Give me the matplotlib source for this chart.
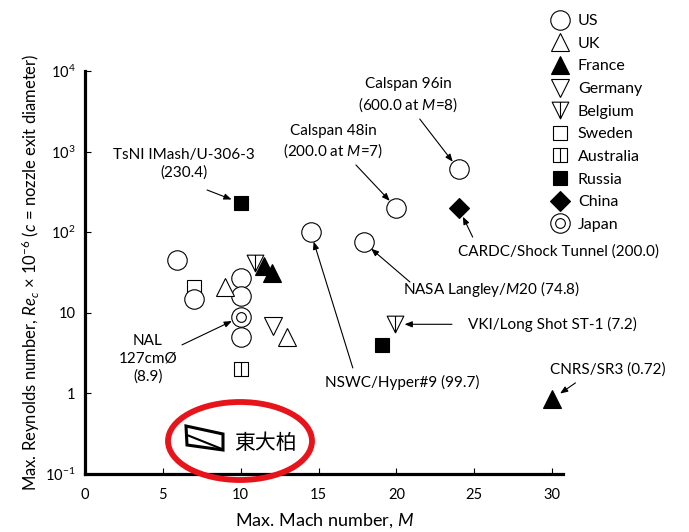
import matplotlib.pyplot as plt
from matplotlib.lines import Line2D
from matplotlib.patches import Ellipse, Polygon
from matplotlib.path import Path
from matplotlib.legend_handler import HandlerTuple

plt.rcParams['font.family'] = ['Lato', 'DejaVu Sans']
plt.rcParams['mathtext.fontset'] = 'custom'
plt.rcParams['mathtext.rm'] = 'Lato'
plt.rcParams['mathtext.it'] = 'Lato:italic'

# Facilities by country: max Mach number and max Reynolds number (x 1e-6)
us_M = [5.9, 7.0, 10.0, 10.0, 10.0, 14.5, 17.9, 20.0, 24.0]
us_Re = [45, 15, 27, 16, 5.0, 99.7, 74.8, 200, 600]
uk_M = [9.0, 13.0]
uk_Re = [21, 5.0]
france_M = [11.5, 12.0, 30.0]
france_Re = [38, 31, 0.85]
germany_M = [12.1]
germany_Re = [6.8]
belgium_M = [10.9, 19.9]
belgium_Re = [42, 7.2]
sweden_M = [7.0]
sweden_Re = [21]
australia_M = [10.0]
australia_Re = [2.0]
russia_M = [10.0, 19.1]
russia_Re = [230.4, 4.0]
china_M = [24.0]
china_Re = [200]
japan_M = [10.0]
japan_Re = [8.9]

x_ticks = [0, 5, 10, 15, 20, 25, 30]
y_ticks = [0.1, 1, 10, 100, 1000, 10000]
y_ticklabels = ['$10^{-1}$', '1', '10', '$10^{2}$', '$10^{3}$', '$10^{4}$']

# custom markers: triangle / square with a vertical bar
belgium_marker = Path([(-1, 1), (1, 1), (0, -1), (-1, 1), (0, 1), (0, -1)],
                      [Path.MOVETO, Path.LINETO, Path.LINETO, Path.CLOSEPOLY,
                       Path.MOVETO, Path.LINETO])
australia_marker = Path([(-1, -1), (1, -1), (1, 1), (-1, 1), (-1, -1), (0, -1), (0, 1)],
                        [Path.MOVETO, Path.LINETO, Path.LINETO, Path.LINETO, Path.CLOSEPOLY,
                         Path.MOVETO, Path.LINETO])

fig = plt.figure(figsize=(6.89, 5.32), dpi=100)
ax = fig.add_axes([85 / 689, 1 - 474 / 532, (563 - 85) / 689, (474 - 71) / 532])

ew = 0.8
kw_open = dict(linestyle='none', markerfacecolor='white', markeredgecolor='black', markeredgewidth=ew)
kw_full = dict(linestyle='none', markerfacecolor='black', markeredgecolor='black', markeredgewidth=ew)

ax.plot(sweden_M, sweden_Re, marker='s', markersize=10, **kw_open)
ax.plot(us_M, us_Re, marker='o', markersize=14, **kw_open)
ax.plot(uk_M, uk_Re, marker='^', markersize=13, **kw_open)
ax.plot(belgium_M, belgium_Re, marker=belgium_marker, markersize=12, **kw_open)
ax.plot(germany_M, germany_Re, marker='v', markersize=13, **kw_open)
ax.plot(france_M, france_Re, marker='^', markersize=13, **kw_full)
ax.plot(australia_M, australia_Re, marker=australia_marker, markersize=10, **kw_open)
ax.plot(russia_M, russia_Re, marker='s', markersize=10, **kw_full)
ax.plot(china_M, china_Re, marker='D', markersize=10, **kw_full)
ax.plot(japan_M, japan_Re, marker='o', markersize=14, **kw_open)
ax.plot(japan_M, japan_Re, marker='o', markersize=7, **kw_open)

ax.set_yscale('log')
ax.set_xlim(0, 30.7)
ax.set_ylim(0.1, 10000)
ax.set_xticks(x_ticks)
ax.set_yticks(y_ticks)
ax.set_yticklabels(y_ticklabels)
ax.minorticks_off()
ax.tick_params(direction='in', length=4, width=0.8, labelsize=10.5, colors='black')
ax.tick_params(axis='x', pad=10)
ax.tick_params(axis='y', pad=7)
for s in ['top', 'right']:
    ax.spines[s].set_visible(False)
for s in ['left', 'bottom']:
    ax.spines[s].set_linewidth(2.3)

ax.set_xlabel('Max. Mach number, $\\mathit{M}$', fontsize=13, labelpad=7)
ax.set_ylabel('Max. Reynolds number, $\\mathit{Re}_{\\mathit{c}}$ \u00d7 10$^{-6}$ ($\\mathit{c}$ = nozzle exit diameter)',
              fontsize=12, labelpad=2)

# annotations
arrow = dict(arrowstyle='-|>,head_length=0.45,head_width=0.18', lw=0.8, color='black', shrinkA=0)
fs = 11

def note(text, tx, ty, px, py, ax_, ay, shrink=7, ha='center'):
    ax.text(tx, ty, text, ha=ha, va='center', fontsize=fs, linespacing=1.3, clip_on=False)
    ax.annotate('', xy=(px, py), xytext=(ax_, ay), arrowprops=dict(arrow, shrinkB=shrink),
                annotation_clip=False)

note('TsNI IMash/U-306-3\n(230.4)', 6.36, 700, russia_M[0], russia_Re[0], 7.84, 334)
note('Calspan 96in\n(600.0 at $\\mathit{M}$=8)', 20.75, 5000, us_M[8], us_Re[8], 21.5, 2535)
note('Calspan 48in\n(200.0 at $\\mathit{M}$=7)', 15.93, 1315, us_M[7], us_Re[7], 17.4, 683)
note('CARDC/Shock Tunnel (200.0)', 23.96, 56.8, china_M[0], china_Re[0], 24.9, 87, ha='left')
note('NASA Langley/$\\mathit{M}$20 (74.8)', 26.1, 19.7, us_M[6], us_Re[6], 20.87, 24.1)
note('VKI/Long Shot ST-1 (7.2)', 24.6, 7.2, belgium_M[1], belgium_Re[1], 23.57, 7.2, ha='left')
note('NSWC/Hyper#9 (99.7)', 20.4, 1.38, us_M[5], us_Re[5], 17.2, 2.07)
note('NAL\n127cm\u00d8\n(8.9)', 4.05, 2.67, japan_M[0], japan_Re[0], 6.23, 4.0)
note('CNRS/SR3 (0.72)', 33.6, 1.95, france_M[2], france_Re[2], 31.5, 1.35)

# legend
H = lambda **k: Line2D([], [], **k)
handles = [
    H(marker='o', markersize=14, **kw_open),
    H(marker='^', markersize=13, **kw_open),
    H(marker='^', markersize=13, **kw_full),
    H(marker='v', markersize=13, **kw_open),
    H(marker=belgium_marker, markersize=12, **kw_open),
    H(marker='s', markersize=10, **kw_open),
    H(marker=australia_marker, markersize=10, **kw_open),
    H(marker='s', markersize=10, **kw_full),
    H(marker='D', markersize=10, **kw_full),
    (H(marker='o', markersize=14, **kw_open), H(marker='o', markersize=7, **kw_open)),
]
labels = ['US', 'UK', 'France', 'Germany', 'Belgium', 'Sweden', 'Australia', 'Russia', 'China', 'Japan']
fig.legend(handles, labels, loc='upper left', bbox_to_anchor=(541 / 689, 1 - 6 / 532),
           frameon=False, fontsize=11.5, borderpad=0, handlelength=1.4, handletextpad=0.41,
           labelspacing=0.53, handler_map={tuple: HandlerTuple(ndivide=1, pad=0)})

# Tokyo Univ. Kashiwa logo with red ellipse
def fx(p):
    return p / 689

def fy(p):
    return 1 - p / 532

fig.patches.append(Ellipse((fx(240), fy(441)), 144 / 689, 78 / 532, transform=fig.transFigure,
                           fill=False, edgecolor='#e8141c', linewidth=4.2, zorder=10))
logo = [(186, 426), (223, 434), (223, 450), (187, 445)]
fig.patches.append(Polygon([(fx(a), fy(b)) for a, b in logo], closed=True, fill=False,
                           edgecolor='black', linewidth=2.2, transform=fig.transFigure, zorder=10))
fig.lines.append(Line2D([fx(187), fx(222)], [fy(435), fy(449)], color='black', linewidth=1.5,
                        transform=fig.transFigure, zorder=10))
fig.text(fx(265), fy(443), '東大柏', fontsize=15, ha='center', va='center',
         family=['Noto Sans CJK JP', 'DejaVu Sans'])

fig.savefig('out.png', dpi=100)
